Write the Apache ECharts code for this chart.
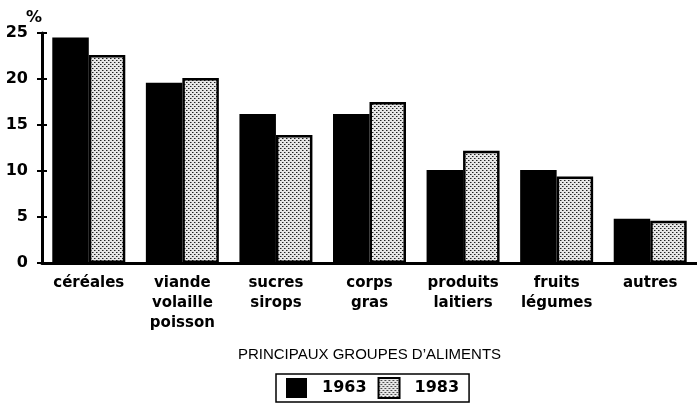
<!DOCTYPE html>
<html>
<head>
<meta charset="utf-8">
<script src="https://cdn.jsdelivr.net/npm/echarts@6/dist/echarts.min.js"></script>
<style>
  html, body { margin: 0; padding: 0; background: #fff; }
  #chart { width: 697px; height: 407px; }
</style>
</head>
<body>
<div id="chart"></div>
<script>
const categories = ['céréales', 'viande\nvolaille\npoisson', 'sucres\nsirops', 'corps\ngras', 'produits\nlaitiers', 'fruits\nlégumes', 'autres']
const values1963 = [24.5, 19.6, 16.2, 16.2, 10.1, 10.1, 4.8]
const values1983 = [22.6, 20.1, 13.9, 17.5, 12.2, 9.4, 4.6]
const yTicks = { min: 0, max: 25, interval: 5 }

// dotted fill for the 1983 bars
function makeDots() {
  const c = document.createElement('canvas')
  c.width = 4
  c.height = 4
  const ctx = c.getContext('2d')
  ctx.fillStyle = '#e6e6e6'
  ctx.fillRect(0, 0, 4, 4)
  ctx.fillStyle = '#222'
  ctx.fillRect(0, 0, 1, 1)
  ctx.fillRect(2, 2, 1, 1)
  ctx.fillStyle = '#888'
  ctx.fillRect(1, 0, 1, 1)
  ctx.fillRect(3, 2, 1, 1)
  return c
}
const dots = { image: makeDots(), repeat: 'repeat' }

const font = 'DejaVu Sans'
const chart = echarts.init(document.getElementById('chart'))

chart.setOption({
  animation: false,
  title: {
    text: '%',
    left: 21,
    top: 5,
    textStyle: { fontFamily: font, fontSize: 16, fontWeight: 'bold', color: '#000' },
  },
  grid: { left: 42, right: -4, top: 33, bottom: 144 },
  legend: {
    left: 276,
    top: 374,
    itemWidth: 21,
    itemHeight: 20,
    itemGap: 11,
    padding: [3, 10, 3, 10],
    borderColor: '#000',
    borderWidth: 1.5,
    icon: 'rect',
    textStyle: { fontFamily: font, fontSize: 16, fontWeight: 'bold', color: '#000', padding: [0, 0, 0, 10] },
    data: ['1963', '1983'],
  },
  xAxis: [
    {
      type: 'category',
      data: categories,
      name: 'PRINCIPAUX GROUPES D\u2019ALIMENTS',
      nameLocation: 'middle',
      nameGap: 84,
      nameTextStyle: { fontFamily: 'Liberation Sans', fontSize: 15, color: '#000' },
      axisLine: { lineStyle: { color: '#000', width: 3 } },
      axisTick: { length: 4, lineStyle: { color: '#000', width: 2 } },
      axisLabel: {
        fontFamily: font,
        fontSize: 15,
        fontWeight: 'bold',
        color: '#000',
        lineHeight: 20,
        margin: 10,
        interval: 0,
      },
    },
    {
      type: 'category',
      data: categories,
      position: 'bottom',
      axisLine: { show: false },
      axisTick: { inside: true, length: 4, lineStyle: { color: '#000', width: 2 } },
      axisLabel: { show: false },
    },
  ],
  yAxis: [
    {
      type: 'value',
      min: yTicks.min,
      max: yTicks.max,
      interval: yTicks.interval,
      splitLine: { show: false },
      axisLine: { show: true, lineStyle: { color: '#000', width: 3 } },
      axisTick: { show: true, length: 5, lineStyle: { color: '#000', width: 2 } },
      axisLabel: { fontFamily: font, fontSize: 16, fontWeight: 'bold', color: '#000', margin: 14 },
    },
    {
      type: 'value',
      min: yTicks.min,
      max: yTicks.max,
      interval: yTicks.interval,
      position: 'left',
      splitLine: { show: false },
      axisLine: { show: false },
      axisTick: { show: true, inside: true, length: 5, lineStyle: { color: '#000', width: 2 } },
      axisLabel: { show: false },
    },
  ],
  series: [
    {
      name: '1963',
      type: 'bar',
      data: values1963,
      barGap: '0%',
      barCategoryGap: '22%',
      itemStyle: { color: '#000' },
    },
    {
      name: '1983',
      type: 'bar',
      data: values1983,
      itemStyle: { color: dots, borderColor: '#000', borderWidth: 2.5 },
    },
  ],
})
</script>
</body>
</html>
